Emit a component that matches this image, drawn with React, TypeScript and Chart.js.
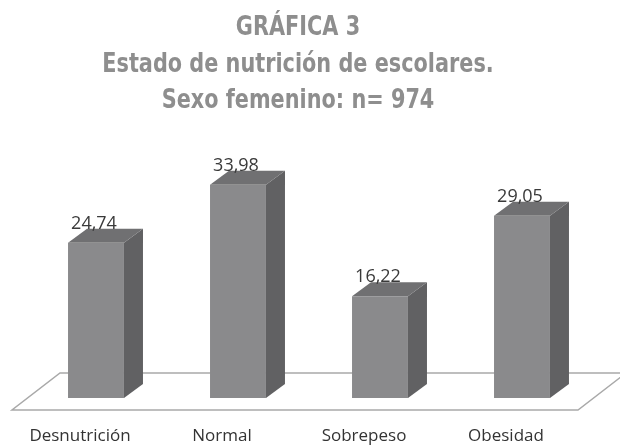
import React, { useEffect, useRef } from "react";
import { Chart, registerables } from "chart.js";

Chart.register(...registerables);

const categories = ["Desnutrición", "Normal", "Sobrepeso", "Obesidad"];
const values = [24.74, 33.98, 16.22, 29.05];
const valueLabels = ["24,74", "33,98", "16,22", "29,05"];
const titleLines = ["GRÁFICA 3", "Estado de nutrición de escolares.", "Sexo femenino: n= 974"];

const FRONT = "#8a8a8c";
const TOP = "#707072";
const SIDE = "#616163";
const DX = 19;
const DY = 14;

const TITLE_FONT = "'DejaVu Sans Condensed', 'Liberation Sans Narrow', sans-serif";
const TEXT_FONT = "'Open Sans', 'Noto Sans', sans-serif";

const bars3d = {
  id: "bars3d",
  beforeDatasetsDraw(chart: any) {
    const { ctx, chartArea } = chart;
    const base = chart.scales.y.getPixelForValue(0);
    ctx.save();
    // floor plane
    ctx.beginPath();
    ctx.moveTo(chartArea.left - 13, base + 12);
    ctx.lineTo(chartArea.right - 15, base + 12);
    ctx.lineTo(chartArea.right + 33, base - 25);
    ctx.lineTo(chartArea.left + 35, base - 25);
    ctx.closePath();
    ctx.fillStyle = "#ffffff";
    ctx.fill();
    ctx.strokeStyle = "#a9a9a9";
    ctx.lineWidth = 1.5;
    ctx.stroke();
    const meta = chart.getDatasetMeta(0);
    meta.data.forEach((bar: any) => {
      const { x, y, base: b, width } = bar.getProps(["x", "y", "base", "width"], true);
      const l = x - width / 2;
      const r = x + width / 2;
      ctx.beginPath();
      ctx.moveTo(r, y);
      ctx.lineTo(r + DX, y - DY);
      ctx.lineTo(r + DX, b - DY);
      ctx.lineTo(r, b);
      ctx.closePath();
      ctx.fillStyle = SIDE;
      ctx.fill();
      ctx.beginPath();
      ctx.moveTo(l, y);
      ctx.lineTo(l + DX, y - DY);
      ctx.lineTo(r + DX, y - DY);
      ctx.lineTo(r, y);
      ctx.closePath();
      ctx.fillStyle = TOP;
      ctx.fill();
    });
    ctx.restore();
  },
  afterDatasetsDraw(chart: any) {
    const { ctx } = chart;
    const meta = chart.getDatasetMeta(0);
    ctx.save();
    ctx.fillStyle = "#3a3a3a";
    ctx.font = `400 18px ${TEXT_FONT}`;
    ctx.textAlign = "center";
    ctx.textBaseline = "alphabetic";
    meta.data.forEach((bar: any, i: number) => {
      const { x, y } = bar.getProps(["x", "y"], true);
      ctx.fillText(valueLabels[i], x - 2, y - DY);
    });
    // category labels
    const xs = chart.scales.x;
    ctx.font = `400 17px ${TEXT_FONT}`;
    ctx.fillStyle = "#333333";
    ctx.textBaseline = "middle";
    categories.forEach((c, i) => {
      ctx.fillText(c, xs.getPixelForValue(i) - 16, 436);
    });
    // title (condensed, heavy)
    ctx.fillStyle = "#8e8e8e";
    ctx.font = `700 26px ${TITLE_FONT}`;
    ctx.textBaseline = "alphabetic";
    const baselines = [35, 72, 108];
    const sx = 0.89;
    titleLines.forEach((t, i) => {
      ctx.save();
      ctx.translate(298, baselines[i]);
      ctx.scale(sx, 1);
      ctx.fillText(t, 0, 0);
      ctx.restore();
    });
    ctx.restore();
  },
};

export default function App() {
  const ref = useRef<HTMLCanvasElement | null>(null);
  useEffect(() => {
    if (!ref.current) return;
    const chart = new Chart(ref.current, {
      type: "bar",
      data: {
        labels: categories,
        datasets: [
          {
            data: values,
            backgroundColor: FRONT,
            borderWidth: 0,
            categoryPercentage: 1,
            barPercentage: 0.394,
          },
        ],
      },
      options: {
        responsive: false,
        animation: false,
        devicePixelRatio: 1,
        layout: { padding: { top: 147, bottom: 47, left: 25, right: 27 } },
        plugins: { legend: { display: false }, tooltip: { enabled: false }, title: { display: false } },
        scales: {
          x: { display: false },
          y: { display: false, min: 0, max: 40 },
        },
      },
      plugins: [bars3d],
    });
    return () => chart.destroy();
  }, []);
  return (
    <div style={{ position: "absolute", left: 0, top: 0, width: 620, height: 445, background: "#fff" }}>
      <canvas ref={ref} width={620} height={445} />
    </div>
  );
}
